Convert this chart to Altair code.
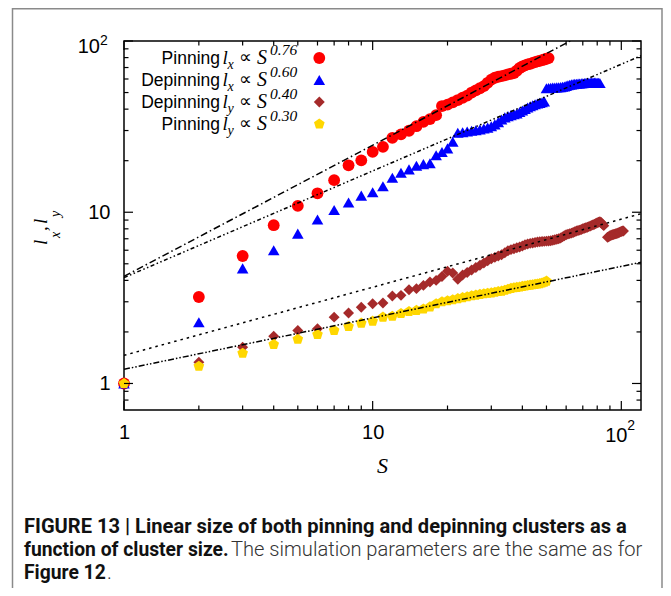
import altair as alt
import pandas as pd

# ---------------- data ----------------
S_PIN_LX = list(range(1, 52))
L_PIN_LX = [1.0, 3.2, 5.55, 8.4, 10.9, 12.9, 15.4, 18.8, 20.1, 22.5,
            24.1, 27.2, 28.5, 29.9, 31.8, 33.7, 35.0, 36.9, 41.7, 42.5,
            43.8, 45.2, 46.6, 48.0, 50.0, 51.5, 53.0, 54.5, 57.0, 59.5,
            61.0, 61.8, 62.3, 63.0, 63.8, 64.4, 65.0, 67.0, 69.5, 71.0,
            72.0, 73.0, 73.6, 74.5, 75.3, 76.0, 76.6, 77.3, 78.0, 78.8,
            79.5]

S_DEP_LX = list(range(1, 83))
L_DEP_LX = [1.0, 2.28, 4.7, 6.0, 7.5, 9.06, 10.3, 11.4, 12.5, 13.1,
            14.2, 15.9, 17.0, 17.8, 18.7, 19.1, 19.3, 21.5, 22.5, 23.6,
            25.8, 29.1, 29.3, 29.6, 29.9, 30.1, 30.4, 30.8, 31.2, 31.8,
            32.6, 33.6, 34.8, 35.8, 36.4, 36.9, 37.3, 37.7, 38.5, 39.3,
            40.1, 40.9, 41.6, 42.2, 42.7, 43.1, 43.5, 43.9, 44.3, 53.0,
            53.2, 53.3, 53.4, 53.5, 53.6, 53.7, 53.8, 54.0, 54.3, 54.7,
            55.1, 55.5, 55.8, 56.0, 56.2, 56.3, 56.4, 56.5, 56.6, 56.7,
            56.8, 56.9, 57.0, 57.1, 57.1, 57.2, 57.2, 57.2, 57.2, 57.1,
            57.0, 56.9]

S_DEP_LY = list(range(1, 86)) + list(range(88, 103))
L_DEP_LY = [1.0, 1.33, 1.63, 1.89, 2.04, 2.09, 2.44, 2.58, 2.79, 2.92,
            2.95, 3.24, 3.27, 3.53, 3.58, 3.74, 3.91, 4.0, 4.22, 4.52,
            4.42, 4.06, 4.3, 4.45, 4.6, 4.75, 4.9, 5.05, 5.2, 5.35,
            5.45, 5.55, 5.65, 5.8, 5.95, 6.05, 6.12, 6.2, 6.27, 6.35,
            6.45, 6.52, 6.58, 6.62, 6.66, 6.7, 6.72, 6.74, 6.76, 6.78,
            6.8, 6.82, 6.86, 6.9, 6.95, 7.0, 7.08, 7.18, 7.28, 7.38,
            7.45, 7.5, 7.55, 7.62, 7.7, 7.76, 7.82, 7.86, 7.92, 8.0,
            8.06, 8.12, 8.18, 8.24, 8.3, 8.38, 8.45, 8.52, 8.6, 8.68,
            8.75, 8.8, 8.7, 8.5, 8.35,
            7.15, 7.2, 7.28, 7.33, 7.38, 7.42, 7.45, 7.48, 7.52, 7.56,
            7.62, 7.68, 7.72, 7.76, 7.78]

S_PIN_LY = list(range(1, 51))
L_PIN_LY = [1.0, 1.26, 1.5, 1.69, 1.81, 1.93, 2.04, 2.15, 2.25, 2.31,
            2.44, 2.47, 2.56, 2.63, 2.67, 2.72, 2.8, 2.92, 3.0, 3.04,
            3.08, 3.13, 3.17, 3.21, 3.25, 3.28, 3.31, 3.34, 3.36, 3.38,
            3.41, 3.44, 3.46, 3.5, 3.55, 3.59, 3.62, 3.64, 3.66, 3.69,
            3.71, 3.73, 3.75, 3.77, 3.79, 3.81, 3.83, 3.86, 3.9, 3.96]

# power-law fit lines: end points
FIT_PIN_LX_S = [1, 62.3]
FIT_PIN_LX_L = [4.22, 100]
FIT_DEP_LX_S = [1, 120]
FIT_DEP_LX_L = [4.15, 82.0]
FIT_DEP_LY_S = [1, 120]
FIT_DEP_LY_L = [1.46, 9.8]
FIT_PIN_LY_S = [1, 120]
FIT_PIN_LY_L = [1.21, 5.1]

# ticks and labels
X_MAJOR = [1, 10, 100]
X_MINOR = [2, 3, 4, 5, 6, 7, 8, 9, 20, 30, 40, 50, 60, 70, 80, 90]
Y_MAJOR = [1, 10, 100]
Y_MINOR = [0.8, 0.9, 2, 3, 4, 5, 6, 7, 8, 9, 20, 30, 40, 50, 60, 70, 80, 90]
PLAIN_TICKS = [1, 10]          # labelled by the axes
POWER_TICK = 100               # labelled as 10 with superscript 2
POWER_BASE, POWER_EXP = "10", "2"

LEGEND_NAMES = ["Pinning", "Depinning", "Depinning", "Pinning"]
LEGEND_SUBS = ["x", "x", "y", "y"]
LEGEND_EXPS = ["0.76", "0.60", "0.40", "0.30"]

CAPTION_1 = "FIGURE 13 | Linear size of both pinning and depinning clusters as a"
CAPTION_2B = "function of cluster size."
CAPTION_2N = "The simulation parameters are the same as for"
CAPTION_3B = "Figure 12"
CAPTION_3N = "."

# ---------------- styles ----------------
W, H = 517, 369
PENTAGON = "M0,-1L0.951,-0.309L0.588,0.809L-0.588,0.809L-0.951,-0.309Z"
SERIES = [
    (S_PIN_LX, L_PIN_LX, "#ff0000", "circle", 140),
    (S_DEP_LX, L_DEP_LX, "#0000ff", "triangle-up", 135),
    (S_DEP_LY, L_DEP_LY, "#a52a2a", "diamond", 120),
    (S_PIN_LY, L_PIN_LY, "#ffd700", PENTAGON, 125),
]
FITS = [
    (FIT_PIN_LX_S, FIT_PIN_LX_L, [7, 3, 1.5, 3]),
    (FIT_DEP_LX_S, FIT_DEP_LX_L, [4, 2.5, 1.5, 2.5, 1.5, 2.5]),
    (FIT_DEP_LY_S, FIT_DEP_LY_L, [2.5, 4]),
    (FIT_PIN_LY_S, FIT_PIN_LY_L, [6, 2, 1.5, 2, 1.5, 2]),
]

SANS = "Liberation Sans"
SERIF = "Liberation Serif"

xs = alt.Scale(type="log", domain=[1, 120], nice=False)
ys = alt.Scale(type="log", domain=[0.7, 100], nice=False)

x_axis = alt.Axis(values=PLAIN_TICKS, ticks=False, tickSize=0, format="d",
                  domain=False, grid=False, title=None, labelFont=SANS,
                  labelFontSize=20, labelColor="black", labelPadding=12,
                  labelOverlap=False, labelBound=False, labelFlush=False)
y_axis = alt.Axis(values=PLAIN_TICKS, ticks=False, tickSize=0, format="d",
                  domain=False, grid=False, title=None, labelFont=SANS,
                  labelFontSize=20, labelColor="black", labelPadding=14,
                  labelOverlap=False, labelBound=False, labelFlush=False)

ONE = pd.DataFrame({"a": [0]})
layers = []

# outer figure frame
layers.append(
    alt.Chart(ONE).mark_rect(fill="white", fillOpacity=0, stroke="#8a8a8a",
                             strokeWidth=1.5).encode(
        x=alt.value(-111.5), x2=alt.value(538),
        y=alt.value(-32.2), y2=alt.value(700))
)

# data points
for s, l, col, shp, size in SERIES:
    df = pd.DataFrame({"S": s, "L": l})
    layers.append(alt.Chart(df).mark_point(shape=shp, filled=True, color=col,
                                           opacity=1, size=size,
                                           strokeWidth=0).encode(
        x=alt.X("S:Q", scale=xs, axis=x_axis),
        y=alt.Y("L:Q", scale=ys, axis=y_axis)))

# fit lines
for s, l, dash in FITS:
    df = pd.DataFrame({"S": s, "L": l})
    layers.append(alt.Chart(df).mark_line(color="black", strokeWidth=1.5,
                                          strokeDash=dash, clip=True).encode(
        x=alt.X("S:Q", scale=xs, axis=x_axis),
        y=alt.Y("L:Q", scale=ys, axis=y_axis)))


# inward ticks on all four sides
def xticks(vals, length):
    df = pd.DataFrame({"S": vals})
    base = alt.Chart(df).mark_rule(color="black", strokeWidth=1.2)
    xt = alt.X("S:Q", scale=xs, axis=x_axis)
    return [base.encode(x=xt, y=alt.value(H), y2=alt.value(H - length)),
            base.encode(x=xt, y=alt.value(0), y2=alt.value(length))]


def yticks(vals, length):
    df = pd.DataFrame({"L": vals})
    base = alt.Chart(df).mark_rule(color="black", strokeWidth=1.2)
    yt = alt.Y("L:Q", scale=ys, axis=y_axis)
    return [base.encode(y=yt, x=alt.value(0), x2=alt.value(length)),
            base.encode(y=yt, x=alt.value(W), x2=alt.value(W - length))]


layers += xticks(X_MAJOR, 9) + xticks(X_MINOR, 4.5)
layers += yticks(Y_MAJOR, 9) + yticks(Y_MINOR, 4.5)


def txt(s, x, y, size, font, style="normal", weight="normal", align="left",
        angle=0, color="black", dx=0, dy=0):
    return alt.Chart(ONE).mark_text(
        text=s, fontSize=size, font=font, fontStyle=style, fontWeight=weight,
        align=align, baseline="alphabetic", angle=angle, color=color,
        dx=dx, dy=dy
    ).encode(x=x if not isinstance(x, (int, float)) else alt.value(x),
             y=y if not isinstance(y, (int, float)) else alt.value(y))


# "10^2" labels placed through the scales
xd = alt.XDatum(POWER_TICK, type="quantitative", scale=xs, axis=x_axis)
yd = alt.YDatum(POWER_TICK, type="quantitative", scale=ys, axis=y_axis)
layers.append(txt(POWER_BASE, xd, H + 31.7, 20, SANS, align="center", dx=-5))
layers.append(txt(POWER_EXP, xd, H + 20, 14, SANS, align="left", dx=6))
layers.append(txt(POWER_BASE, -24, yd, 20, SANS, align="right", dy=12))
layers.append(txt(POWER_EXP, -24, yd, 14, SANS, align="left", dy=4))

# legend
for i in range(4):
    b = 22.7 + 22 * i
    s, l, col, shp, size = SERIES[i]
    layers.append(txt(LEGEND_NAMES[i], 96, b, 17.5, SANS, align="right"))
    layers.append(txt("l", 98.5, b, 19, SERIF, style="italic"))
    layers.append(txt(LEGEND_SUBS[i], 103.5, b + 5, 14, SERIF, style="italic"))
    layers.append(txt("\u221d", 115, b - 0.5, 18, "DejaVu Sans"))
    layers.append(txt("S", 133, b, 20, SERIF, style="italic"))
    layers.append(txt(LEGEND_EXPS[i], 146, b - 8.4, 15.5, SERIF, style="italic"))
    layers.append(alt.Chart(ONE).mark_point(shape=shp, filled=True, color=col,
                                            opacity=1, size=size, strokeWidth=0)
                  .encode(x=alt.value(195.3), y=alt.value(b - 5.7)))

# axis titles
layers.append(txt("S", 258.5, 432, 22, SERIF, style="italic", align="center"))
layers.append(txt("l", -77, 204, 19, SERIF, style="italic", angle=270))
layers.append(txt("x", -64, 197, 14, SERIF, style="italic", angle=270))
layers.append(txt(",", -77, 190, 19, SERIF, style="italic", angle=270))
layers.append(txt("l", -77, 183, 19, SERIF, style="italic", angle=270))
layers.append(txt("y", -64, 176, 14, SERIF, style="italic", angle=270))

# caption
CAP = "Roboto"
layers.append(txt(CAPTION_1, -100, 492, 20.1, CAP, weight="bold", color="#111"))
layers.append(txt(CAPTION_2B, -100, 515, 19.3, CAP, weight="bold", color="#111"))
layers.append(txt(CAPTION_2N, 107, 515, 20.1, CAP, weight=300, color="#333"))
layers.append(txt(CAPTION_3B, -100, 538, 19.3, CAP, weight="bold", color="#111"))
layers.append(txt(CAPTION_3N, -17, 538, 20.1, CAP, weight=300, color="#333"))

chart = alt.layer(*layers).properties(
    width=W, height=H,
    autosize="none",
    padding={"left": 116, "top": 33, "right": 22, "bottom": 178},
    background="white",
).configure_view(stroke="black", strokeWidth=1.5)

chart.save("out.html", embed_options={"renderer": "svg", "actions": False})
